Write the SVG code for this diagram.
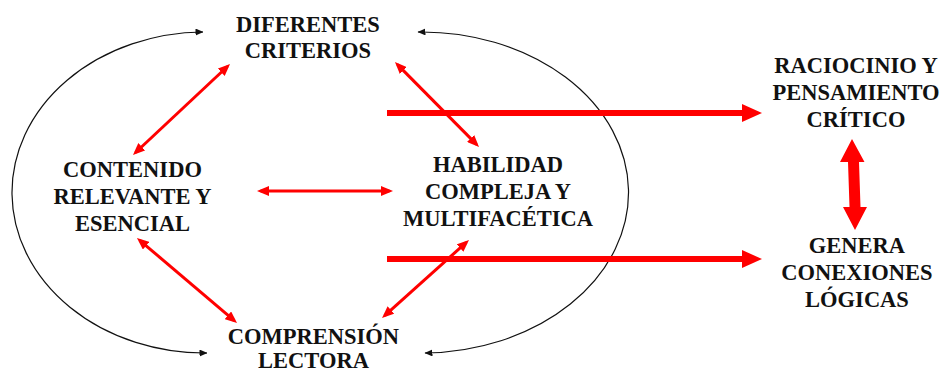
<svg xmlns="http://www.w3.org/2000/svg" width="941" height="372" viewBox="0 0 941 372">
<defs>
<style>
.lbl{font-family:"Liberation Serif","Times New Roman",serif;font-weight:bold;font-size:22.5px;fill:#111;text-anchor:middle}
.red{stroke:#FF0000;fill:none;stroke-width:3}
.big{stroke:#FF0000;fill:none;stroke-width:6}
.blk{stroke:#111;fill:none;stroke-width:1.2}
</style>
<marker id="rh" viewBox="0 0 12 10" markerUnits="userSpaceOnUse" markerWidth="12" markerHeight="10" refX="8.4" refY="5" orient="auto-start-reverse"><path d="M0,0 L12,5 L0,10 z" fill="#FF0000"/></marker>
<marker id="bh" viewBox="0 0 20 18" markerUnits="userSpaceOnUse" markerWidth="20" markerHeight="18" refX="3" refY="9" orient="auto"><path d="M0,0 L20,9 L0,18 z" fill="#FF0000"/></marker>
<marker id="kh" viewBox="0 0 8 7" markerUnits="userSpaceOnUse" markerWidth="8" markerHeight="7" refX="7.5" refY="3.5" orient="auto-start-reverse"><path d="M0,0 L8,3.5 L0,7 z" fill="#111"/></marker>
</defs>
<rect width="941" height="372" fill="#fff"/>
<g id="connectors">
<path class="blk" d="M203,32 A193,160.5 0 0 0 207,353" marker-start="url(#kh)" marker-end="url(#kh)"/>
<path class="blk" d="M418,32 A207,160.5 0 0 1 425,353" marker-start="url(#kh)" marker-end="url(#kh)"/>
<line class="red" x1="227.4" y1="66.5" x2="135.6" y2="152.5" marker-start="url(#rh)" marker-end="url(#rh)"/>
<line class="red" x1="397.5" y1="64.6" x2="476.5" y2="144.4" marker-start="url(#rh)" marker-end="url(#rh)"/>
<line class="red" x1="260.6" y1="191" x2="389.4" y2="191" marker-start="url(#rh)" marker-end="url(#rh)"/>
<line class="red" x1="139.7" y1="240.3" x2="234.3" y2="320.7" marker-start="url(#rh)" marker-end="url(#rh)"/>
<line class="red" x1="466.3" y1="242.4" x2="384.7" y2="315.6" marker-start="url(#rh)" marker-end="url(#rh)"/>
<line class="big" x1="387" y1="113" x2="745" y2="113" marker-end="url(#bh)"/>
<line class="big" x1="387" y1="259" x2="745" y2="259" marker-end="url(#bh)"/>
<polygon fill="#FF0000" points="852,139 864.5,162 859,162 860.5,207 867,207 855,230 843,207 849.5,207 848,162 840,162"/>
</g>
<g id="n-diferentes"><text class="lbl" x="308" y="32">DIFERENTES</text><text class="lbl" x="308" y="58">CRITERIOS</text></g>
<g id="n-contenido"><text class="lbl" x="132.5" y="177">CONTENIDO</text><text class="lbl" x="132.5" y="204">RELEVANTE Y</text><text class="lbl" x="132.5" y="231">ESENCIAL</text></g>
<g id="n-habilidad"><text class="lbl" x="498" y="172">HABILIDAD</text><text class="lbl" x="498" y="199">COMPLEJA Y</text><text class="lbl" x="498" y="226">MULTIFACÉTICA</text></g>
<g id="n-comprension"><text class="lbl" x="313.5" y="344">COMPRENSIÓN</text><text class="lbl" x="313.5" y="368">LECTORA</text></g>
<g id="n-raciocinio"><text class="lbl" x="856" y="73">RACIOCINIO Y</text><text class="lbl" x="856" y="100">PENSAMIENTO</text><text class="lbl" x="856" y="127">CRÍTICO</text></g>
<g id="n-genera"><text class="lbl" x="857" y="253">GENERA</text><text class="lbl" x="857" y="280">CONEXIONES</text><text class="lbl" x="857" y="307">LÓGICAS</text></g>
</svg>
